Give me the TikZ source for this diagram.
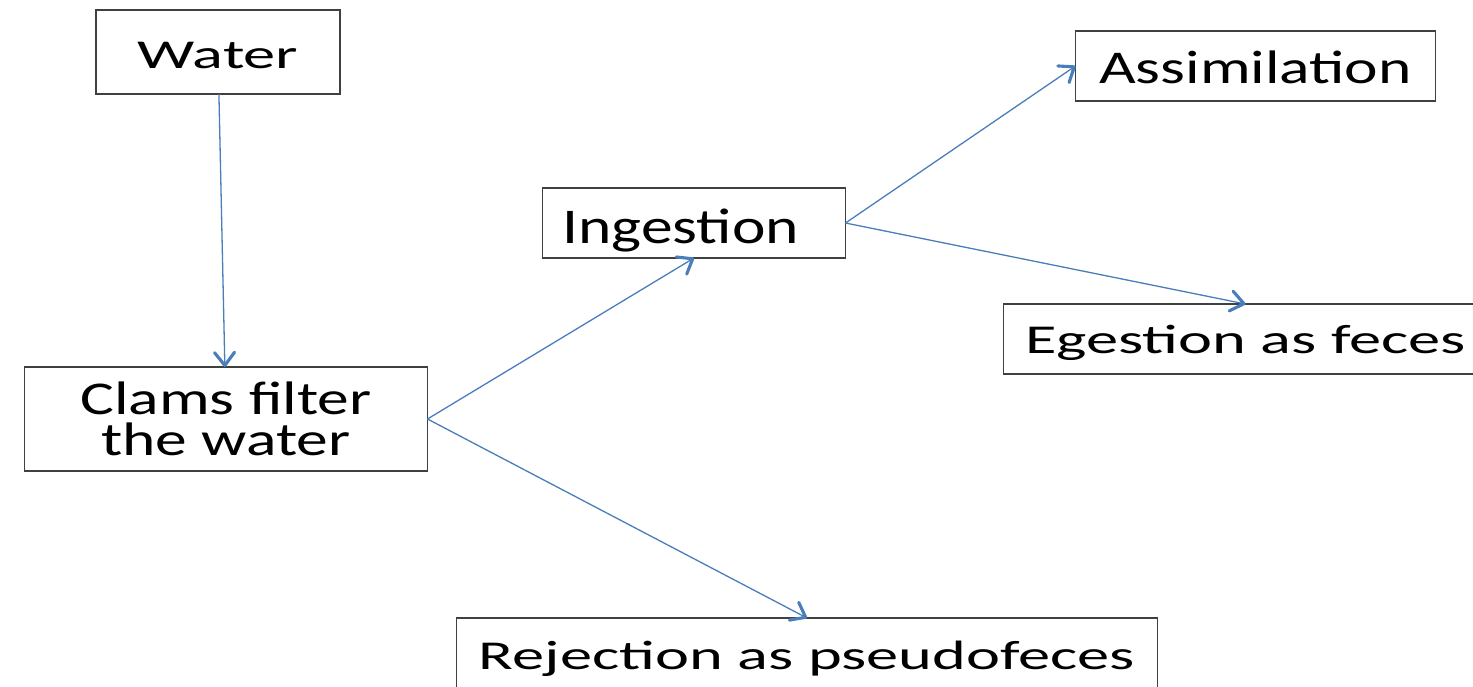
\documentclass[tikz,border=0pt]{standalone}
\usepackage{fontspec}
\usepackage{tikz}
\usetikzlibrary{positioning}
\usetikzlibrary{arrows.meta}

\setmainfont{Carlito}
\newfontfamily\lowfont[FakeStretch=1.57]{Carlito}
\newfontfamily\midfont[FakeStretch=1.35]{Carlito}
\newfontfamily\tallfont[FakeStretch=1.27]{Carlito}

\definecolor{boxgray}{RGB}{64,64,64}
\definecolor{flowblue}{RGB}{74,126,187}

\begin{document}
\begin{tikzpicture}[
            x = 1pt, y = 1pt
        ]

        \tikzstyle{box}=[
            draw = boxgray,
            line width = 1.5pt,
            inner sep = 0pt,
            outer sep = 0pt,
            align = center,
            text height = 32pt,
            text depth = 0pt
        ]
        \tikzstyle{flow}=[
            draw = flowblue,
            line width = 1.3pt,
            -{Straight Barb[length=13pt,width=20pt,line width=0pt 2.4,round]} % open arrow head
        ]

        \path[use as bounding box, clip] (0,0) rectangle (1473,-686);

	% WATER AND FILTERING
        \node[box, minimum width = 244pt, minimum height = 84pt, font = \lowfont\fontsize{41}{41}\selectfont] (W) at (218,-52) {Water};
        \node[box, minimum width = 403pt, minimum height = 104pt, font = \midfont\fontsize{47}{41}\selectfont, text height = {}, text depth = {}] (C) [below = 273pt of W, xshift = 8pt] {Clams filter\\the water};

        \draw[flow] (W) -- (C);

	% INGESTION OR REJECTION
        \node[box, minimum height = 70pt, text width = 263pt, inner xsep = 20pt, align = left, font = \tallfont\fontsize{50}{50}\selectfont, text height = 40pt] (I) [above right = 109pt and 115pt of C] {Ingestion};
        \node[box, minimum width = 701pt, minimum height = 72pt, font = \lowfont\fontsize{41}{41}\selectfont, text height = 30pt] (R) [below right = 147pt and 29pt of C] {Rejection as pseudofeces};

        \draw[flow] (C.east) -- (I.south);
        \draw[flow] (C.east) -- (R.north);

	% FATE OF INGESTED MATERIAL
        \node[box, minimum width = 360pt, minimum height = 70pt, font = \midfont\fontsize{47}{47}\selectfont, text height = 34pt] (A) [above right = 87pt and 230pt of I] {Assimilation};
        \node[box, minimum width = 484pt, minimum height = 70pt, font = \lowfont\fontsize{41}{41}\selectfont, text height = 28pt] (E) [below right = 46pt and 158pt of I] {Egestion as feces};

        \draw[flow] (I.east) -- (A.west);
        \draw[flow] (I.east) -- (E.north);

  \end{tikzpicture}
\end{document}
